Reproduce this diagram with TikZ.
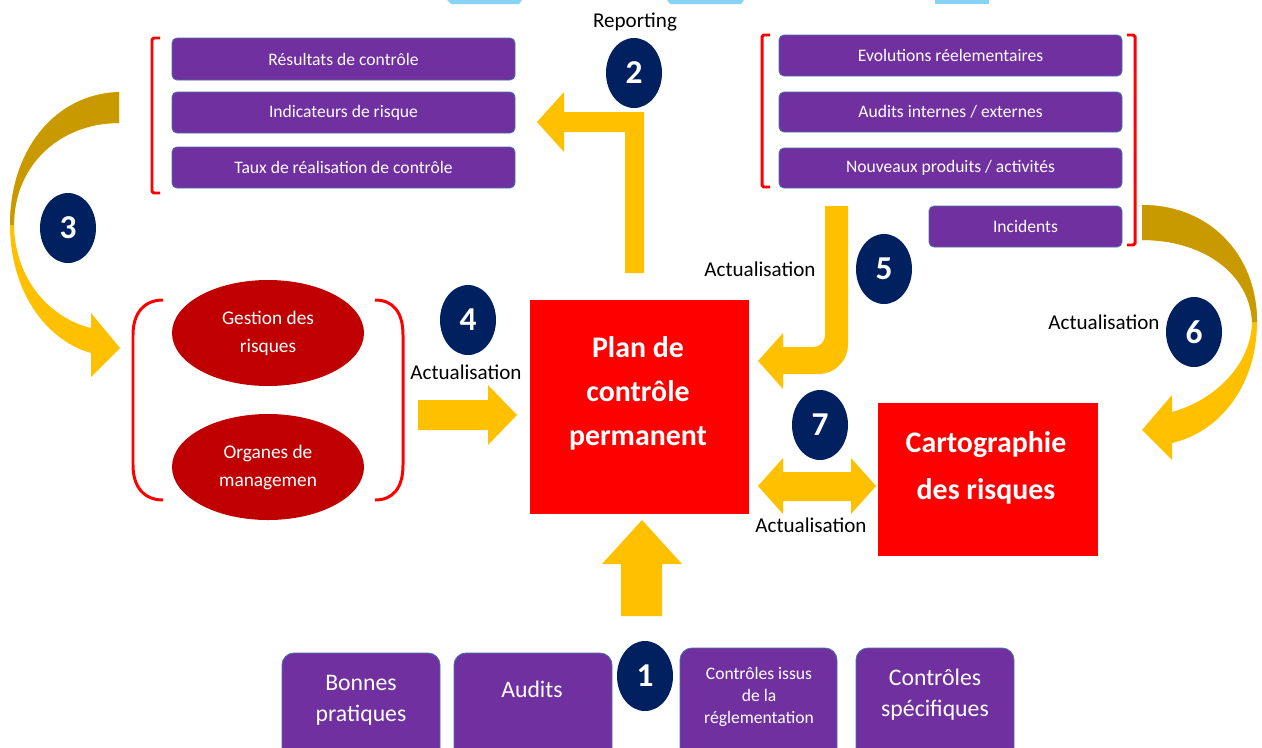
\documentclass[tikz,border=0pt]{standalone}
\usepackage{fontspec}
\setmainfont{Carlito}
\usetikzlibrary{shapes.geometric}
\definecolor{purp}{HTML}{7030A0}
\definecolor{purpedge}{HTML}{4A6FA5}
\definecolor{navy}{HTML}{002060}
\definecolor{gold}{HTML}{FFC000}
\definecolor{darkgold}{HTML}{C99A00}
\definecolor{darkred}{HTML}{C00000}
\definecolor{skyblue}{HTML}{87D3F5}
\begin{document}
\begin{tikzpicture}[x=0.2mm,y=-0.2mm,
  pbox/.style={rectangle, rounded corners=1mm, fill=purp, draw=purpedge, line width=0.5pt,
    text=white, inner sep=0pt, font=\fontsize{10}{12}\selectfont},
  tile/.style={rectangle, rounded corners=2.4mm, fill=purp, draw=purpedge, line width=0.5pt, inner sep=0pt},
  tiletext/.style={text=white, align=center, inner sep=0pt},
  num/.style={ellipse, fill=navy, text=white, minimum width=11.2mm, minimum height=14mm,
    inner sep=0pt, font=\bfseries\fontsize{19}{19}\selectfont},
  lab/.style={text=black, inner sep=0pt, font=\fontsize{12}{14}\selectfont},
  bigred/.style={rectangle, fill=red, inner sep=0pt},
  bigtext/.style={text=white, align=center, inner sep=0pt},
  oval/.style={ellipse, fill=darkred, minimum width=38.4mm, minimum height=21.2mm, inner sep=0pt,
    text=white, align=center, font=\fontsize{11}{15.9}\selectfont},
  brk/.style={draw=red, line width=1.7pt, rounded corners=1pt},
  blk/.style={fill=gold},
  blkdark/.style={fill=darkgold}]

\useasboundingbox (0,0) rectangle (1262,747);
\clip (0,0) rectangle (1262,747);

% slivers along the top edge
\fill[skyblue] (447,0) -- (522,0) -- (519,4) -- (451,4) -- cycle;
\fill[skyblue] (667,0) -- (744,0) -- (741,4) -- (670,4) -- cycle;
\fill[skyblue] (935,0) -- (989,0) -- (989,4) -- (935,4) -- cycle;

% ---- reporting group (top left)
\node[pbox, minimum width=68.6mm, minimum height=8.4mm] (res) at (343.5,59) {Résultats de contrôle};
\node[pbox, minimum width=68.6mm, minimum height=8.2mm] (ind) at (343.5,112.5) {Indicateurs de risque};
\node[pbox, minimum width=68.6mm, minimum height=8.2mm] (taux) at (343.5,167.5) {Taux de réalisation de contrôle};
\draw[brk] (160,38) -- (152,38) -- (152,193) -- (160,193);

% ---- sources group (top right)
\node[pbox, minimum width=68.6mm, minimum height=8.2mm] (evo) at (950.5,55.5) {Evolutions réelementaires};
\node[pbox, minimum width=68.6mm, minimum height=8.0mm] (aud) at (950.5,112) {Audits internes / externes};
\node[pbox, minimum width=68.6mm, minimum height=8.0mm] (nouv) at (950.5,168) {Nouveaux produits / activités};
\node[pbox, minimum width=38.6mm, minimum height=8.2mm] (inc) at (1025.5,226.5) {Incidents};
\draw[brk] (770,35) -- (762,35) -- (762,187) -- (770,187);
\draw[brk] (1127,35) -- (1135,35) -- (1135,245) -- (1127,245);

% ---- governance ovals
\node[oval] (gest) at (268,333) {Gestion des\\risques};
\node[oval] (org) at (268,467) {Organes de\\managemen};
\draw[draw=red, line width=1.7pt] (163,300) .. controls (145,300) and (133,312) .. (133,335)
  -- (133,465) .. controls (133,488) and (145,500) .. (163,500);
\draw[draw=red, line width=1.7pt] (375,300) .. controls (393,300) and (403,312) .. (403,335)
  -- (403,465) .. controls (403,488) and (393,500) .. (375,500);

% ---- central boxes
\node[bigred, minimum width=43.8mm, minimum height=42.8mm] (plan) at (639.5,407) {};
\node[bigtext, font=\bfseries\fontsize{17}{25}\selectfont] (plantxt) at (638,393) {Plan de\\contrôle\\permanent};
\node[bigred, minimum width=44mm, minimum height=30.6mm] (carto) at (988,479.5) {};
\node[bigtext, font=\bfseries\fontsize{17}{26.7}\selectfont] (cartotxt) at (986,468) {Cartographie\\des risques};

% ---- bottom tiles
\node[tile, minimum width=31.6mm, minimum height=23.4mm] (bp) at (361,711.5) {};
\node[tile, minimum width=31.6mm, minimum height=23.4mm] (au) at (533,711.5) {};
\node[tile, minimum width=31.4mm, minimum height=24.4mm] (ci) at (758.5,709) {};
\node[tile, minimum width=31.6mm, minimum height=24.4mm] (cs) at (935,709) {};
\node[tiletext, font=\fontsize{13.5}{17.6}\selectfont] at (361,700) {Bonnes\\pratiques};
\node[tiletext, font=\fontsize{13.5}{17.6}\selectfont] at (532,689) {Audits};
\node[tiletext, font=\fontsize{10}{12.5}\selectfont] at (759,697) {Contrôles issus\\de la\\réglementation};
\node[tiletext, font=\fontsize{13.5}{17.6}\selectfont] at (935,695) {Contrôles\\spécifiques};

% ---- block arrows
% 1: sources into the plan
\path[blk] (621,616) -- (621,564) -- (602,564) -- (642,520) -- (682,564) -- (662,564) -- (662,616) -- cycle;
% 2: reporting
\path[blk] (625,273) -- (625,132) -- (564,132) -- (564,152) -- (537,122) -- (564,92) -- (564,112)
  -- (644,112) -- (644,273) -- cycle;
% 3: curved arrow towards governance
\path[blk] (119,92) .. controls (55,94) and (10,150) .. (10,225)
  .. controls (10,290) and (45,340) .. (91,353) -- (91,377) -- (120,348) -- (91,313) -- (91,328)
  .. controls (50,318) and (15,280) .. (14,225)
  .. controls (14,165) and (60,123) .. (119,123) -- cycle;
\path[blkdark] (119,92) .. controls (55,94) and (10,150) .. (10,225) -- (14,225)
  .. controls (14,165) and (60,123) .. (119,123) -- cycle;
% 4: governance into the plan
\path[blk] (418,400) -- (488,400) -- (488,385) -- (517,415) -- (488,445) -- (488,430) -- (418,430) -- cycle;
% 5: bent arrow into the plan
\path[blk] (825,206) -- (848,206) -- (848,344) .. controls (848,361) and (835,374) .. (818,374)
  -- (783,374) -- (783,389) -- (758,361) -- (783,333) -- (783,347) -- (813,347)
  .. controls (820,347) and (825,342) .. (825,335) -- cycle;
% 6: curved arrow towards the risk map
\path[blk] (1142,205) .. controls (1210,205) and (1257,255) .. (1257,322)
  .. controls (1257,385) and (1220,432) .. (1172,443) -- (1172,460) -- (1142,430) -- (1172,395) -- (1172,412)
  .. controls (1215,400) and (1251,365) .. (1252,322)
  .. controls (1250,275) and (1205,240) .. (1142,240) -- cycle;
\path[blkdark] (1142,205) .. controls (1210,205) and (1257,255) .. (1257,322) -- (1252,322)
  .. controls (1250,275) and (1205,240) .. (1142,240) -- cycle;
% 7: two-way arrow between plan and risk map
\path[blk] (758,486) -- (783,458) -- (783,472) -- (851,472) -- (851,458) -- (876,486)
  -- (851,514) -- (851,501) -- (783,501) -- (783,514) -- cycle;

% ---- step numbers
\node[num] (n1) at (645,676) {1};
\node[num] (n2) at (634,73) {2};
\node[num] (n3) at (68,228) {3};
\node[num] (n4) at (468,320) {4};
\node[num] (n5) at (884,269) {5};
\node[num] (n6) at (1194,332) {6};
\node[num] (n7) at (820,425) {7};

% ---- labels
\node[lab] (rep) at (635,22) {Reporting};
\node[lab] (act4) at (466,372) {Actualisation};
\node[lab] (act5) at (760,269) {Actualisation};
\node[lab] (act6) at (1104,322) {Actualisation};
\node[lab] (act7) at (811,525) {Actualisation};
\end{tikzpicture}
\end{document}
